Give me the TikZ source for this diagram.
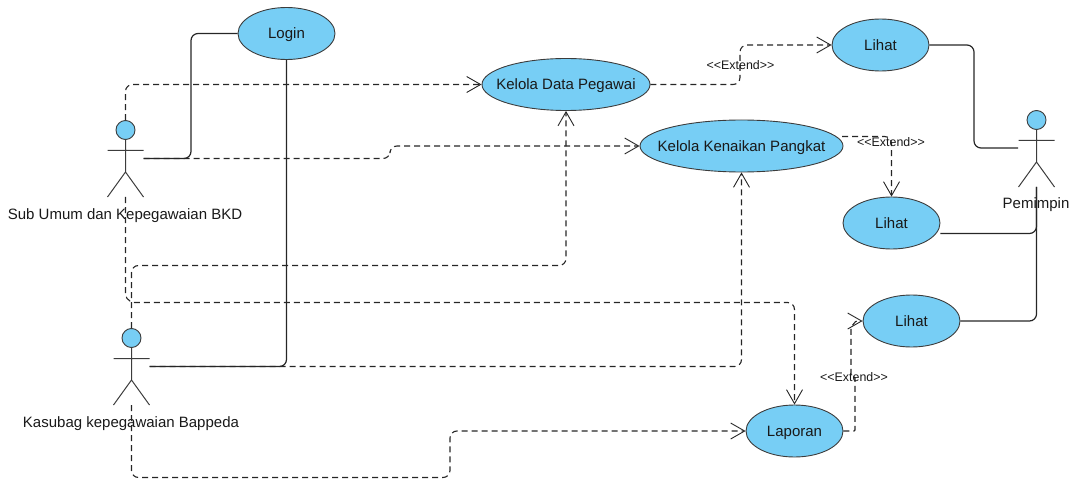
\documentclass[tikz,border=0pt]{standalone}
\usepackage{fontspec}
\setmainfont{Liberation Sans}
\usetikzlibrary{arrows.meta,shapes.geometric}
\definecolor{ucfill}{HTML}{77CEF5}
\definecolor{ucline}{HTML}{3C3C3C}
\newcommand{\uctext}[1]{\makebox[0pt]{\smash{\raisebox{-0.36em}{#1}}}}
\tikzset{
  x=1pt,y=-1pt,
  usecase/.style={ellipse,draw=ucline,line width=0.9pt,fill=ucfill,inner sep=0pt,minimum height=52pt,font=\fontsize{15}{17}\selectfont,text=black!90},
  head/.style={circle,draw=ucline,line width=0.9pt,fill=ucfill,inner sep=0pt,minimum size=19pt},
  limb/.style={draw=ucline,line width=1pt},
  actorlabel/.style={font=\fontsize{15}{17}\selectfont,text=black!90,inner sep=0pt},
  assoc/.style={draw=black!85,line width=1.2pt,rounded corners=7pt},
  dep/.style={draw=black!85,line width=1.1pt,rounded corners=7pt,dash pattern=on 6pt off 4pt,
    -{Straight Barb[length=14pt,width=16pt,line width=0.9pt]}},
  stereo/.style={font=\fontsize{12.4}{14}\selectfont,text=black!90,inner sep=0pt}
}
\begin{document}
\begin{tikzpicture}
\useasboundingbox (0,0) rectangle (1070,481);
% use cases
\node[usecase,minimum width=97pt] (login) at (286.5,33.5) {\uctext{Login}};
\node[usecase,minimum width=168pt] (data) at (566,84.5) {\uctext{Kelola Data Pegawai}};
\node[usecase,minimum width=203pt] (pangkat) at (741.5,146) {\uctext{Kelola Kenaikan Pangkat}};
\node[usecase,minimum width=97pt] (lihata) at (880.5,45) {\uctext{Lihat}};
\node[usecase,minimum width=97pt] (lihatb) at (891.5,223) {\uctext{Lihat}};
\node[usecase,minimum width=97pt] (lihatc) at (911.5,321) {\uctext{Lihat}};
\node[usecase,minimum width=97pt] (laporan) at (794.5,431) {\uctext{Laporan}};
% actors
\node[head] (suba) at (125.5,130) {};
\coordinate (subarmL) at (107.5,150.5);
\coordinate (subarmR) at (143.5,150.5);
\coordinate (subhip) at (125.5,172);
\coordinate (sublegL) at (107.5,197);
\coordinate (sublegR) at (143.5,197);
\coordinate (subport) at (143.5,158.5);
\coordinate (subfoot) at (125.5,197);
\draw[limb] (suba.south) -- (subhip) (subarmL) -- (subarmR) (sublegL) -- (subhip) -- (sublegR);
\node[actorlabel] (sublabel) at (125,215.5) {Sub Umum dan Kepegawaian BKD};

\node[head] (kas) at (131.5,338) {};
\coordinate (kasarmL) at (113.5,358.5);
\coordinate (kasarmR) at (149.5,358.5);
\coordinate (kaship) at (131.5,380);
\coordinate (kaslegL) at (113.5,405);
\coordinate (kaslegR) at (149.5,405);
\coordinate (kasport) at (149.5,366.5);
\coordinate (kasfoot) at (131.5,405);
\draw[limb] (kas.south) -- (kaship) (kasarmL) -- (kasarmR) (kaslegL) -- (kaship) -- (kaslegR);
\node[actorlabel] (kaslabel) at (131,423.5) {Kasubag kepegawaian Bappeda};

\node[head] (pem) at (1036.5,120) {};
\coordinate (pemarmL) at (1018.5,140.5);
\coordinate (pemarmR) at (1054.5,140.5);
\coordinate (pemhip) at (1036.5,162);
\coordinate (pemlegL) at (1018.5,187);
\coordinate (pemlegR) at (1054.5,187);
\coordinate (pemport) at (1018,148);
\coordinate (pemfoot) at (1036.5,187);
\draw[limb] (pem.south) -- (pemhip) (pemarmL) -- (pemarmR) (pemlegL) -- (pemhip) -- (pemlegR);
\node[actorlabel] (pemlabel) at (1036,205) {Pemimpin};
% dependencies
\draw[dep] (suba.north) -- (125.5,84.5) -- (data.west);
\draw[dep] (subport) -- (390,158.5) -- (390,146) -- (pangkat.west);
\draw[dep,rounded corners=2pt] (subfoot) -- (125.5,297) -- (131.5,302.5) -- (786,302.5) to[rounded corners=7pt] (794.5,302.5) -- (laporan.north);
\draw[dep] (kas.north) -- (131.5,265.5) -- (566,265.5) -- (data.south);
\draw[dep] (kasport) -- (741.5,366.5) -- (pangkat.south);
\draw[dep] (kasfoot) -- (131.5,477.5) -- (450,477.5) -- (450,431) -- (laporan.west);
\draw[dep] (data.east) -- (740,84.5) -- (740,45) -- (lihata.west);
\coordinate (pangkatport) at (842,136.5);
\draw[dep] (pangkatport) -- (891.5,136.5) -- (lihatb.north);
\draw[dep,rounded corners=1pt] (laporan.east) -- (855,431) -- (855,377) -- (851,377) -- (851,327) -- (856,321) -- (lihatc.west);
% associations
\draw[assoc] (login.west) -- (191,33.5) -- (191,158.5) -- (subport);
\draw[assoc] (login.south) -- (286.5,366.5) -- (kasport);
\draw[assoc] (lihata.east) -- (974,45) -- (974,148) -- (pemport);
\draw[assoc] (lihatb.east |- 0,233.5) -- (1036.5,233.5) -- (pemfoot);
\draw[assoc] (lihatc.east) -- (1036.5,321) -- (pemfoot);
% stereotypes
\node[stereo] (exta) at (740.5,65) {<{}<Extend>{}>};
\node[stereo] (extb) at (891,142) {<{}<Extend>{}>};
\node[stereo] (extc) at (854,377) {<{}<Extend>{}>};
\end{tikzpicture}
\end{document}
